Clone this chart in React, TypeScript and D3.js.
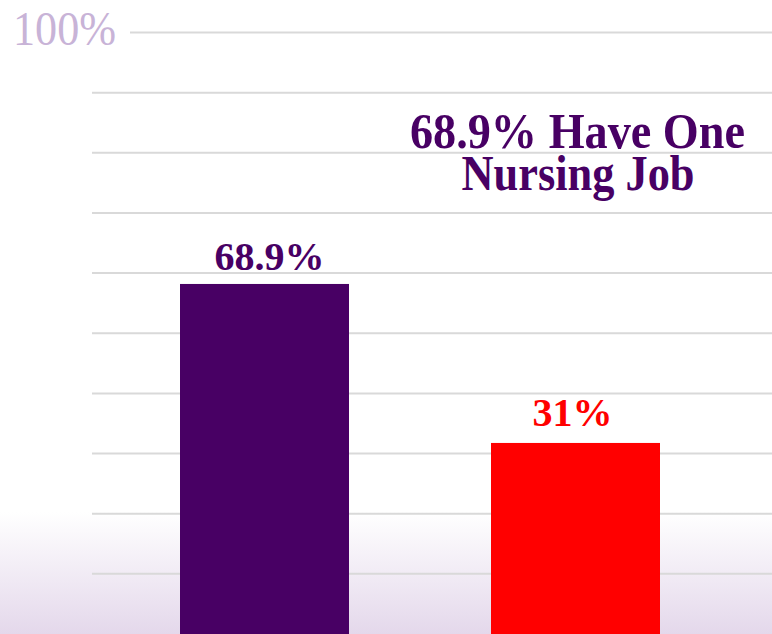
import * as d3 from 'd3';

// bar values (percent) and their colours
const categories = ['One nursing job', 'More than one job'];
const shares = [68.9, 31];
const barColors = ['#480064', '#ff0000'];
const barLabels = ['68.9%', '31%'];

// horizontal grid (percent)
const gridTicks = [10, 20, 30, 40, 50, 60, 70, 80, 90, 100];

const titleLines = ['68.9% Have One', 'Nursing Job'];

const W = 772;
const H = 634;
const SERIF = '"Liberation Serif", "Times New Roman", serif';

export default function App(): React.ReactElement {
  const yGrid = d3.scaleLinear().domain([0, 100]).range([H, 32.5]);
  // the bars use their own (decorative) scale, as in the source graphic
  const yBar = d3.scaleLinear().domain([0, 100]).range([573, 153.5]);
  const x = d3
    .scaleBand<string>()
    .domain(categories)
    .range([24.5, 815.5])
    .paddingInner(0.4566)
    .paddingOuter(0.5);

  return (
    <div style={{ position: 'absolute', left: 0, top: 0 }}>
      <svg width={W} height={H} style={{ display: 'block' }}>
        <defs>
          <linearGradient id="bg" x1="0" y1="0" x2="0" y2="1">
            <stop offset="0" stopColor="#ffffff" />
            <stop offset="1" stopColor="#e4d8eb" />
          </linearGradient>
        </defs>
        <rect width={W} height={H} fill="#ffffff" />
        <rect y={512} width={W} height={H - 512} fill="url(#bg)" />

        {gridTicks.map((t) => (
          <line
            key={t}
            x1={t === 100 ? 130 : 92}
            x2={W}
            y1={yGrid(t)}
            y2={yGrid(t)}
            stroke="#d9d9d9"
            strokeWidth={2}
          />
        ))}
        <text
          x={13}
          y={45}
          fontFamily={SERIF}
          fontSize={48}
          fill="#c8b3d7"
          textLength={103}
          lengthAdjust="spacingAndGlyphs"
        >
          100%
        </text>

        {categories.map((c, i) => (
          <g key={c}>
            <rect
              x={x(c)}
              y={yBar(shares[i])}
              width={x.bandwidth()}
              height={H - yBar(shares[i])}
              fill={barColors[i]}
            />
            <text
              x={(x(c) ?? 0) + x.bandwidth() / 2 + (i === 0 ? 5 : -3)}
              y={yBar(shares[i]) - (i === 0 ? 13.5 : 16.5)}
              textAnchor="middle"
              fontFamily={SERIF}
              fontWeight="bold"
              fontSize={40}
              fill={barColors[i]}
            >
              {barLabels[i]}
            </text>
          </g>
        ))}

        <g fontFamily={SERIF} fontWeight="bold" fontSize={51} fill="#480064" textAnchor="middle">
          <text x={577.5} y={147.5} textLength={335} lengthAdjust="spacingAndGlyphs">
            {titleLines[0]}
          </text>
          <text x={578} y={190} textLength={233} lengthAdjust="spacingAndGlyphs">
            {titleLines[1]}
          </text>
        </g>
      </svg>
    </div>
  );
}
